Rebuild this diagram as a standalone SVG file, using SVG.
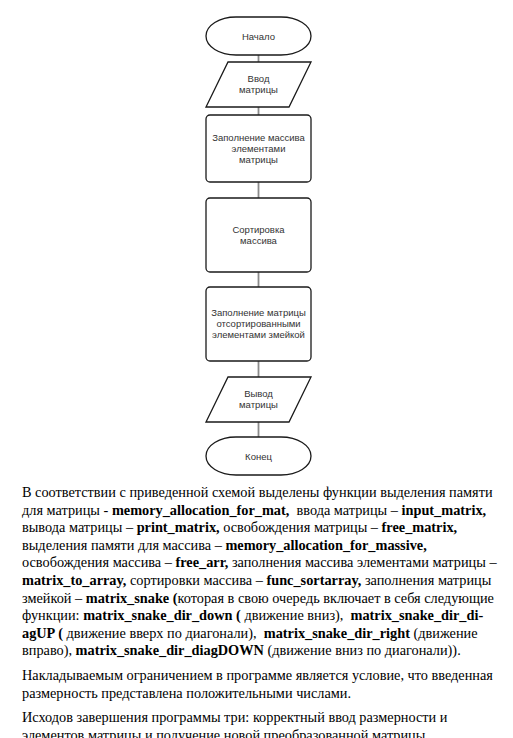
<svg xmlns="http://www.w3.org/2000/svg" width="513" height="738" viewBox="0 0 513 738">
<style>
.shape{fill:#fff;stroke:#1a1a1a;stroke-width:1.3}
.conn{stroke:#8a8a8a;stroke-width:1.8;fill:none}
.lbl{font-family:"Liberation Sans",Arial,sans-serif;font-size:9.5px;fill:#333;text-anchor:middle}
.body{font-family:"Liberation Serif","Times New Roman",serif;font-size:14.3px;fill:#000}
.b{font-weight:bold}
</style>
<rect width="513" height="738" fill="#fff"/>
<g id="connectors">
<line class="conn" x1="258.5" y1="55" x2="258.5" y2="62"/>
<line class="conn" x1="258.5" y1="107" x2="258.5" y2="115"/>
<line class="conn" x1="258.5" y1="182" x2="258.5" y2="198"/>
<line class="conn" x1="258.5" y1="272" x2="258.5" y2="287"/>
<line class="conn" x1="258.5" y1="361" x2="258.5" y2="377"/>
<line class="conn" x1="258.5" y1="422" x2="258.5" y2="437"/>
</g>
<g id="start">
<rect class="shape" x="206" y="17" width="105" height="38" rx="30" ry="19"/>
<text class="lbl" x="258.5" y="39.5">Начало</text>
</g>
<g id="input">
<polygon class="shape" points="228,62 311,62 289,107 206,107"/>
<text class="lbl" x="258.5" y="82">Ввод</text>
<text class="lbl" x="258.5" y="93">матрицы</text>
</g>
<g id="fill-array">
<rect class="shape" x="206" y="115" width="105" height="67" rx="4"/>
<text class="lbl" x="258.5" y="141">Заполнение массива</text>
<text class="lbl" x="258.5" y="152">элементами</text>
<text class="lbl" x="258.5" y="163">матрицы</text>
</g>
<g id="sort">
<rect class="shape" x="206" y="198" width="105" height="74" rx="4"/>
<text class="lbl" x="258.5" y="233">Сортировка</text>
<text class="lbl" x="258.5" y="244">массива</text>
</g>
<g id="fill-matrix">
<rect class="shape" x="206" y="287" width="105" height="74" rx="4"/>
<text class="lbl" x="258.5" y="316">Заполнение матрицы</text>
<text class="lbl" x="258.5" y="327">отсортированными</text>
<text class="lbl" x="258.5" y="338">элементами змейкой</text>
</g>
<g id="output">
<polygon class="shape" points="228,377 311,377 289,422 206,422"/>
<text class="lbl" x="258.5" y="397">Вывод</text>
<text class="lbl" x="258.5" y="408">матрицы</text>
</g>
<g id="end">
<rect class="shape" x="206" y="437" width="105" height="38" rx="30" ry="19"/>
<text class="lbl" x="258.5" y="459.5">Конец</text>
</g>
<g id="text">
<text class="body" x="22" y="497">В соответствии с приведенной схемой выделены функции выделения памяти</text>
<text class="body" x="22" y="514.6" xml:space="preserve">для матрицы - <tspan class="b">memory_allocation_for_mat,</tspan>  ввода матрицы – <tspan class="b">input_matrix,</tspan></text>
<text class="body" x="22" y="532.2">вывода матрицы – <tspan class="b">print_matrix,</tspan> освобождения матрицы – <tspan class="b">free_matrix,</tspan></text>
<text class="body" x="22" y="549.8">выделения памяти для массива – <tspan class="b">memory_allocation_for_massive,</tspan></text>
<text class="body" x="22" y="567.4">освобождения массива – <tspan class="b">free_arr,</tspan> заполнения массива элементами матрицы –</text>
<text class="body" x="22" y="585"><tspan class="b">matrix_to_array,</tspan> сортировки массива – <tspan class="b">func_sortarray,</tspan> заполнения матрицы</text>
<text class="body" x="22" y="602.6">змейкой – <tspan class="b">matrix_snake (</tspan>которая в свою очередь включает в себя следующие</text>
<text class="body" x="22" y="620.2" xml:space="preserve">функции: <tspan class="b">matrix_snake_dir_down (</tspan> движение вниз),  <tspan class="b">matrix_snake_dir_di-</tspan></text>
<text class="body" x="22" y="637.8" xml:space="preserve"><tspan class="b">agUP (</tspan> движение вверх по диагонали),  <tspan class="b">matrix_snake_dir_right</tspan> (движение</text>
<text class="body" x="22" y="655.4">вправо), <tspan class="b">matrix_snake_dir_diagDOWN</tspan> (движение вниз по диагонали)).</text>
<text class="body" x="22" y="680">Накладываемым ограничением в программе является условие, что введенная</text>
<text class="body" x="22" y="697.6">размерность представлена положительными числами.</text>
<text class="body" x="22" y="722.2">Исходов завершения программы три: корректный ввод размерности и</text>
<text class="body" x="22" y="739.8">элементов матрицы и получение новой преобразованной матрицы</text>
</g>
</svg>
